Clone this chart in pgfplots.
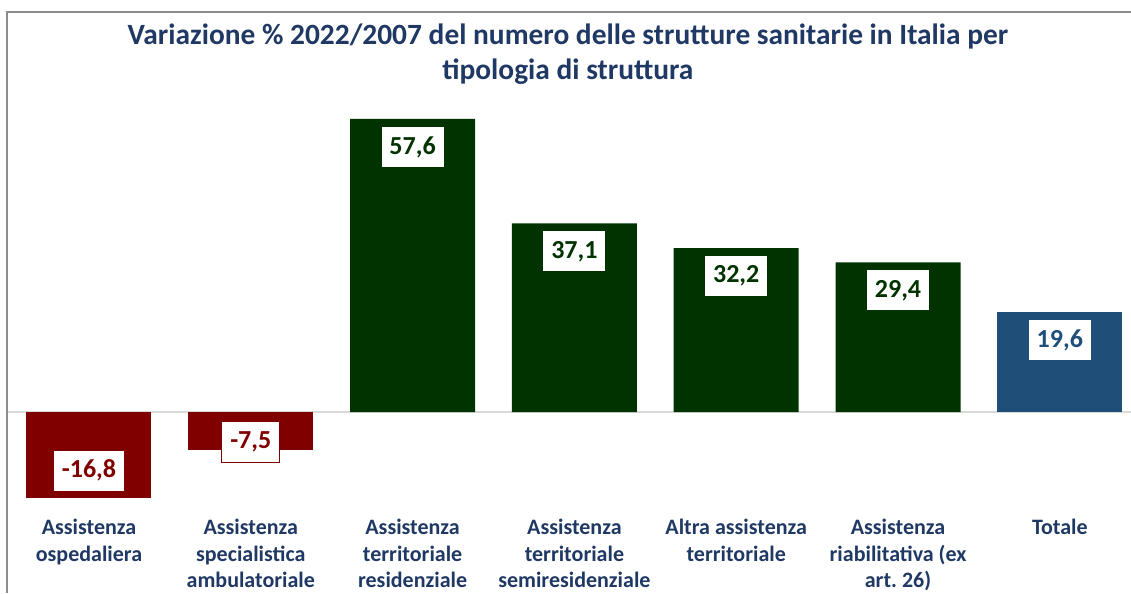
\documentclass[border=0pt]{standalone}
\usepackage{fontspec}
\setmainfont{Carlito}
\usepackage{pgfplots}
\pgfplotsset{compat=1.18}

\definecolor{cRed}{HTML}{800000}
\definecolor{cGreen}{HTML}{003300}
\definecolor{cBlue}{HTML}{1F4E79}
\definecolor{cNavy}{HTML}{1F3864}
\definecolor{cBase}{HTML}{D9D9D9}
\definecolor{cFrame}{HTML}{8C8C8C}

\begin{document}
\begin{tikzpicture}
\begin{axis}[
    scale only axis,
    width=562pt, height=246.5pt,
    xmin=-0.507, xmax=6.440,
    ymin=-18.28, ymax=78.63,
    ybar, bar width=62.5pt, bar shift=0pt,
    axis line style={draw=none},
    xtick={0,...,6},
    xticklabels={{Assistenza\\ospedaliera},
                 {Assistenza\\specialistica\\ambulatoriale},
                 {Assistenza\\territoriale\\residenziale},
                 {Assistenza\\territoriale\\semiresidenziale},
                 {Altra assistenza\\territoriale},
                 {Assistenza\\riabilitativa (ex\\art.\ 26)},
                 {Totale}},
    xticklabel style={align=center, text=cNavy,
        font=\fontsize{11}{13.3}\selectfont\bfseries, yshift=-3.5pt},
    ytick={0}, yticklabels={},
    ymajorgrids, major grid style={cBase, line width=1pt},
    major tick length=0pt,
    clip=false,
    nodes near coords,
    /pgf/number format/use comma,
    /pgf/number format/fixed,
    /pgf/number format/fixed zerofill,
    /pgf/number format/precision=1,
    /pgf/number format/assume math mode=true,
    every node near coord/.append style={fill=white,
        font=\fontsize{13}{15}\selectfont\bfseries,
        inner xsep=4.2pt, minimum height=20.5pt, line width=0.5pt},
]

% Assistenza ospedaliera
\addplot[fill=cRed, draw=none,
    nodes near coords style={anchor=south, yshift=3pt, text=cRed, draw=cRed}]
    coordinates {(0,-16.8)};
% Assistenza specialistica ambulatoriale
\addplot[fill=cRed, draw=none,
    nodes near coords style={anchor=center, yshift=4pt, text=cRed, draw=cRed}]
    coordinates {(1,-7.5)};
% strutture territoriali
\addplot[fill=cGreen, draw=none,
    nodes near coords style={anchor=north, yshift=-3.5pt, text=cGreen, draw=cGreen}]
    coordinates {(2,57.6) (3,37.1) (4,32.2) (5,29.4)};
% Totale
\addplot[fill=cBlue, draw=none,
    nodes near coords style={anchor=north, yshift=-3.5pt, text=cBlue, draw=cBlue}]
    coordinates {(6,19.6)};

\node[align=center, text=cNavy, font=\fontsize{14.7}{17.5}\selectfont\bfseries]
    at (axis cs:2.96,70.28)
    {Variazione \% 2022/2007 del numero delle strutture sanitarie in Italia per\\tipologia di struttura};

\draw[cFrame, line width=0.75pt] (axis cs:-0.507,-35.6) -- (axis cs:-0.507,78.63) -- (axis cs:6.44,78.63);

\coordinate (bbll) at (axis cs:-0.550,-35.58);
\coordinate (bbur) at (axis cs:6.440,80.99);
\end{axis}
\pgfresetboundingbox
\path[use as bounding box] (bbll) rectangle (bbur);
\end{tikzpicture}
\end{document}
